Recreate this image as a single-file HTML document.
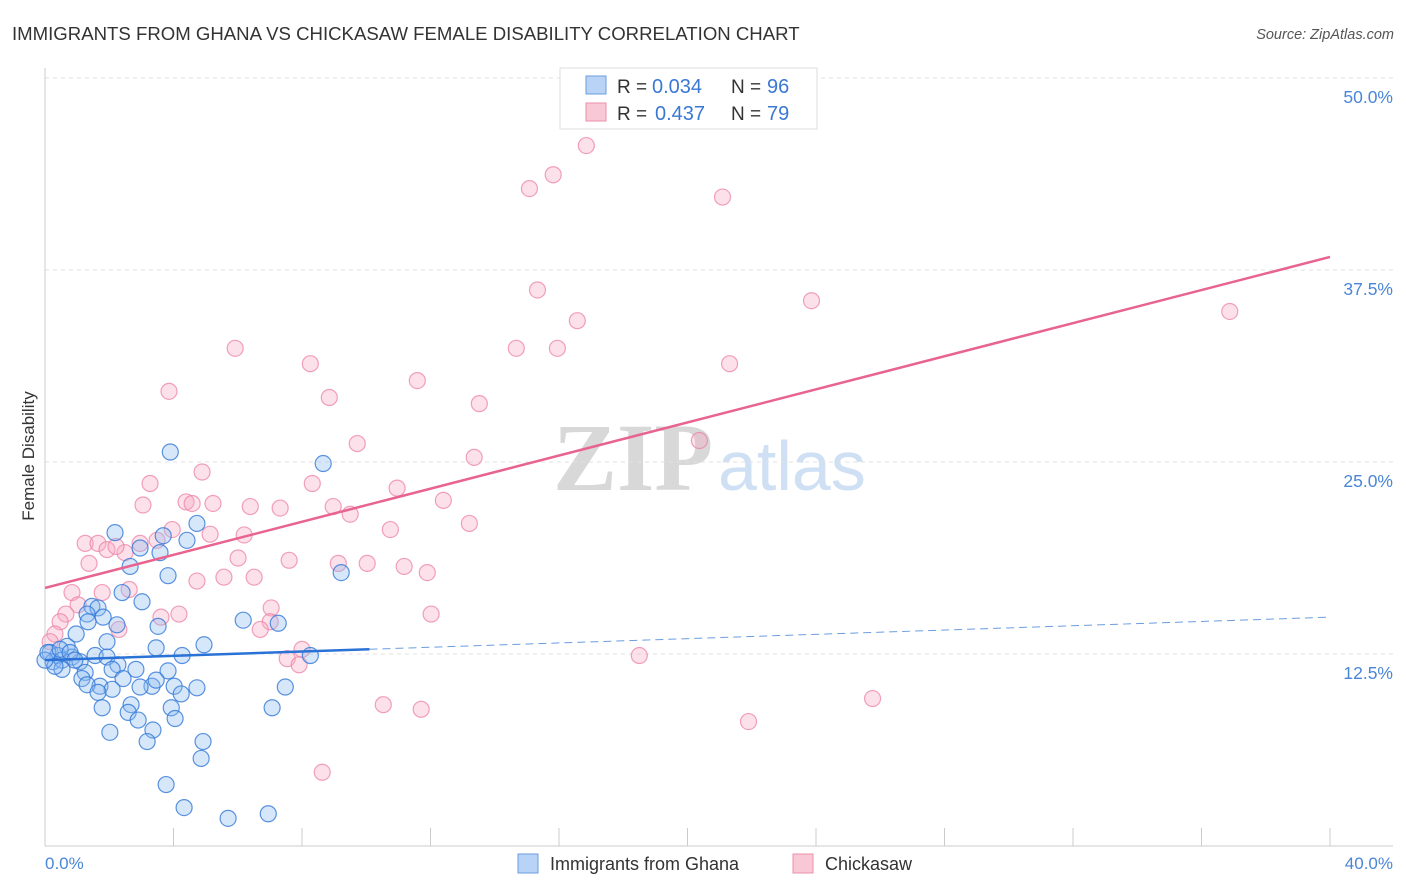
<!DOCTYPE html>
<html><head><meta charset="utf-8"><style>
body{margin:0;background:#fff;font-family:"Liberation Sans",sans-serif}
</style></head><body>
<svg id="c" width="1406" height="892" xmlns="http://www.w3.org/2000/svg" style="display:block">
<text x="12" y="40" font-size="18.6" fill="#333">IMMIGRANTS FROM GHANA VS CHICKASAW FEMALE DISABILITY CORRELATION CHART</text>
<text x="1394" y="39" font-size="14.5" fill="#555" text-anchor="end" font-style="italic">Source: ZipAtlas.com</text>
<g>
<text x="553" y="490" font-size="96" fill="#d8d8d8" font-family="Liberation Serif,serif" font-weight="bold">ZIP</text>
<text x="718" y="490" font-size="70" fill="#cfe0f4">atlas</text>
</g>
<g id="grid"></g>
<line x1="45" y1="68" x2="45" y2="846" stroke="#ccc"/>
<line x1="45" y1="846" x2="1393" y2="846" stroke="#ccc"/>
<text transform="translate(34,456) rotate(-90)" font-size="17" fill="#333" text-anchor="middle">Female Disability</text>
<text x="45" y="869" font-size="17" fill="#4a86d8">0.0%</text>
<text x="1393" y="869" font-size="17" fill="#4a86d8" text-anchor="end">40.0%</text>
<g id="pts"></g>
<g id="trend"></g>
<g>
<rect x="560" y="68" width="257" height="61" fill="#fff" stroke="#ddd"/>
<rect x="586" y="76" width="20" height="18" fill="#b8d3f5" stroke="#6b9de0"/>
<rect x="586" y="103" width="20" height="18" fill="#f9c8d6" stroke="#ec8fab"/>
<text x="617" y="93" font-size="19" fill="#333">R =</text>
<text x="652" y="93" font-size="20" fill="#3a78d4">0.034</text>
<text x="731" y="93" font-size="19" fill="#333">N =</text>
<text x="767" y="93" font-size="20" fill="#3a78d4">96</text>
<text x="617" y="120" font-size="19" fill="#333">R =</text>
<text x="655" y="120" font-size="20" fill="#3a78d4">0.437</text>
<text x="731" y="120" font-size="19" fill="#333">N =</text>
<text x="767" y="120" font-size="20" fill="#3a78d4">79</text>
</g>
<g>
<rect x="518" y="854" width="20" height="19" fill="#b8d3f5" stroke="#6b9de0"/>
<text x="550" y="870" font-size="18" fill="#333">Immigrants from Ghana</text>
<rect x="793" y="854" width="20" height="19" fill="#f9c8d6" stroke="#ec8fab"/>
<text x="825" y="870" font-size="18" fill="#333">Chickasaw</text>
</g>
</svg>
<script>
const yTicks=[12.5,25,37.5,50];
const yTickLabels=["12.5%","25.0%","37.5%","50.0%"];
const xTickVals=[0,4,8,12,16,20,24,28,32,36,40];
const blueX=[3.9,8.66,4.73,2.18,3.68,4.42,2.96,3.58,9.22,3.83,2.65,2.4,3.02,1.46,1.65,1.31,1.81,6.17,7.26,2.24,1.34,3.52,0.97,4.95,1.93,3.46,0.69,0.16,0.4,0.84,0.25,0.53,1.09,1.56,1.93,2.27,2.83,3.83,4.27,8.26,0.53,1.25,2.09,0.31,0,0.09,1.15,2.43,3.33,4.02,4.73,7.48,1.71,1.31,2.09,2.96,3.46,4.24,1.65,1.78,2.68,2.59,3.93,7.07,2.9,4.05,2.02,3.36,3.18,4.92,4.86,3.77,4.33,5.7,6.95,0.47,0.78,0.93];
const blueY=[25.65,24.9,21.0,20.4,20.2,19.9,19.4,19.1,17.8,17.6,18.2,16.5,15.9,15.6,15.5,15.1,14.9,14.7,14.5,14.4,14.6,14.3,13.8,13.1,13.3,12.9,13.0,12.6,12.4,12.3,12.0,12.1,12.0,12.4,12.3,11.8,11.5,11.4,12.4,12.4,11.5,11.3,11.5,11.7,12.1,12.6,10.9,10.9,10.4,10.4,10.3,10.35,10.4,10.5,10.2,10.35,10.8,9.9,10.0,9.0,9.2,8.7,9.0,9.0,8.2,8.3,7.4,7.55,6.8,6.8,5.7,4.0,2.5,1.8,2.1,12.8,12.6,12.1];
const pinkX=[16.85,15.82,15.08,21.09,15.33,23.86,36.88,16.57,14.67,15.95,5.92,8.26,21.31,11.59,3.86,8.85,13.52,20.37,9.72,13.36,4.89,3.27,8.32,10.96,12.4,4.39,5.23,4.58,8.97,3.05,6.39,7.32,9.5,13.21,10.75,3.96,5.14,6.2,3.49,2.96,1.25,1.65,2.49,1.93,2.21,6.01,7.6,9.13,10.03,1.37,11.18,11.9,5.57,6.51,4.73,2.62,1.78,0.84,1.03,0.65,4.17,12.02,7.04,3.61,7.01,0.47,2.3,6.7,0.31,0.16,8.0,18.5,7.54,7.91,25.76,10.53,11.71,21.9,8.63];
const pinkY=[45.6,43.7,42.8,42.25,36.2,35.5,34.8,34.2,32.4,32.4,32.4,31.4,31.4,30.3,29.6,29.2,28.8,26.4,26.2,25.3,24.35,23.6,23.6,23.3,22.5,22.4,22.3,22.3,22.1,22.2,22.1,22.0,21.6,21.0,20.6,20.6,20.3,20.25,19.9,19.7,19.7,19.7,19.1,19.3,19.5,18.75,18.6,18.4,18.4,18.4,18.2,17.8,17.5,17.5,17.25,16.7,16.5,16.5,15.7,15.1,15.1,15.1,15.5,14.9,14.6,14.6,14.1,14.1,13.8,13.3,12.8,12.4,12.2,11.8,9.6,9.2,8.9,8.1,4.8];
const pinkTrend=[16.8,38.35];
const blueTrend=[12.1,14.9];
const blueSolidEnd=10.1;
const NS="http://www.w3.org/2000/svg";
const sx=v=>45+v*(1285/40);
const sy=v=>846-v*15.36;
function mk(t,a,p){const e=document.createElementNS(NS,t);for(const k in a)e.setAttribute(k,a[k]);p.appendChild(e);return e;}
const grid=document.getElementById('grid');
yTicks.forEach((v,i)=>{
 const l=mk('line',{x1:45,x2:1393,y1:sy(v),y2:sy(v),stroke:'#e2e2e2','stroke-dasharray':'4,4'},grid);
 
 
 const t=mk('text',{x:1393,y:sy(v)+25,'font-size':17.5,fill:'#4a86d8','text-anchor':'end'},grid);
 t.textContent=yTickLabels[i];
 
 
});
xTickVals.forEach(v=>{
 const l=mk('line',{x1:sx(v),x2:sx(v),y1:828,y2:846,stroke:'#ccc'},grid);
 
 
});
const pts=document.getElementById('pts');
pinkX.forEach((x,i)=>{
 const c=mk('circle',{cx:sx(x),cy:sy(pinkY[i]),r:8,fill:'rgba(246,170,195,0.35)',stroke:'rgba(236,130,165,0.75)','stroke-width':1.2},pts);
 
 
});
blueX.forEach((x,i)=>{
 const c=mk('circle',{cx:sx(x),cy:sy(blueY[i]),r:8,fill:'rgba(140,185,240,0.35)',stroke:'rgba(50,120,215,0.8)','stroke-width':1.2},pts);
 
 
});
const tr=document.getElementById('trend');
const bAt=x=>blueTrend[0]+(blueTrend[1]-blueTrend[0])*x/40;
let l=mk('line',{x1:sx(0),y1:sy(pinkTrend[0]),x2:sx(40),y2:sy(pinkTrend[1]),stroke:'#e8638e','stroke-width':2.5},tr);


l=mk('line',{x1:sx(0),y1:sy(bAt(0)),x2:sx(blueSolidEnd),y2:sy(bAt(blueSolidEnd)),stroke:'#2a72d6','stroke-width':2.5},tr);


l=mk('line',{x1:sx(blueSolidEnd),y1:sy(bAt(blueSolidEnd)),x2:sx(40),y2:sy(bAt(40)),stroke:'#6b9de0','stroke-width':1,'stroke-dasharray':'8,5'},tr);


</script>
</body></html>
